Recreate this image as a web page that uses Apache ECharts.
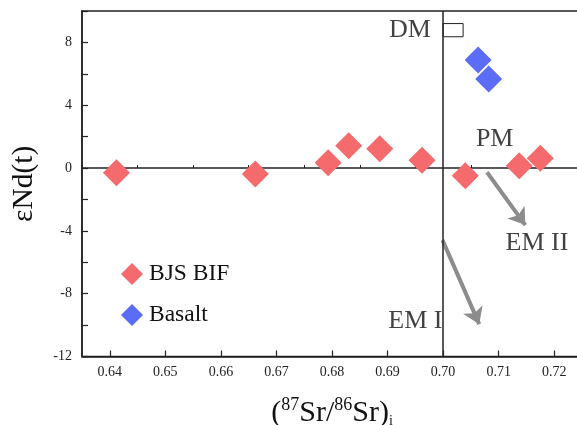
<!DOCTYPE html>
<html>
<head>
<meta charset="utf-8">
<script src="https://cdn.jsdelivr.net/npm/echarts@6/dist/echarts.min.js"></script>
<style>
  html, body { margin: 0; padding: 0; background: #fff; }
  #chart { width: 577px; height: 425px; }
</style>
</head>
<body>
<div id="chart"></div>
<script>
// Initial 87Sr/86Sr vs εNd(t) for banded iron formation and basalt samples
const bifSr  = [0.6412, 0.6662, 0.6793, 0.6830, 0.6886, 0.6962, 0.7040, 0.7137, 0.7175];
const bifNd  = [-0.30, -0.38, 0.34, 1.42, 1.23, 0.49, -0.49, 0.15, 0.62];
const basaltSr = [0.7063, 0.7082];
const basaltNd = [6.88, 5.67];

const xTicks = [0.64, 0.65, 0.66, 0.67, 0.68, 0.69, 0.70, 0.71, 0.72];
const xMinorTicks = [0.635, 0.645, 0.655, 0.665, 0.675, 0.685, 0.695, 0.705, 0.715, 0.725];
const yTicks = [-12, -8, -4, 0, 4, 8];

// Reference values: bulk-earth Sr ratio and chondritic εNd
const bulkEarthSr = 0.7043;
const chondriteNd = 0;

// Mantle reservoir annotations (data coordinates)
const dmBox = [[0.7000, 9.20], [0.7036, 8.36]];
const reservoirNames = ['DM', 'PM', 'EM II', 'EM I'];
const reservoirAt = [[0.6978, 8.75], [0.7059, 1.85], [0.7169, -4.8], [0.6950, -9.75]];
const reservoirAlign = ['right', 'left', 'center', 'center'];
const trendArrows = [
  [[0.7079, -0.27], [0.7148, -3.63]],
  [[0.6999, -4.59], [0.7065, -9.94]]
];

const serif = '"Liberation Serif", "Times New Roman", serif';
const ink = '#222';
const xMin = 0.635, xMax = 0.725;

const chart = echarts.init(document.getElementById('chart'), null, { renderer: 'canvas' });

const pair = (xs, ys) => xs.map((x, i) => [x, ys[i]]);

chart.setOption({
  animation: false,
  backgroundColor: '#fff',
  grid: {
    left: 82, top: 11, width: 500, bottom: 68.5,
    containLabel: false, outerBoundsMode: 'none',
    show: true, borderColor: ink, borderWidth: 1.5, backgroundColor: 'transparent'
  },
  legend: {
    orient: 'vertical',
    left: 116, top: 257,
    itemWidth: 22, itemHeight: 22, itemGap: 17,
    data: [
      { name: 'BJS BIF', icon: 'diamond' },
      { name: 'Basalt', icon: 'diamond' }
    ],
    textStyle: { fontFamily: serif, fontSize: 23.5, color: '#111', padding: [0, 0, 0, 1] }
  },
  xAxis: [
    {
      type: 'value',
      min: xMin, max: xMax, interval: 0.005,
      axisLine: { show: true, onZero: false, lineStyle: { color: ink, width: 1.5 } },
      axisTick: { show: true, inside: true, length: 6, customValues: xTicks, lineStyle: { color: ink, width: 1.2 } },
      splitLine: { show: false },
      axisLabel: {
        fontFamily: serif, fontSize: 14, color: ink, margin: 9,
        customValues: xTicks,
        formatter: v => v.toFixed(2)
      },
      name: '{p|(}{s|87}{p|Sr/}{s|86}{p|Sr)}{b|i}',
      nameLocation: 'middle', nameGap: 40,
      nameTextStyle: {
        rich: {
          p: { fontFamily: serif, fontSize: 30, color: '#111', verticalAlign: 'bottom', lineHeight: 32 },
          s: { fontFamily: serif, fontSize: 18, color: '#111', verticalAlign: 'top', lineHeight: 32, padding: [0, 0, 13, 0] },
          b: { fontFamily: serif, fontSize: 14, color: '#111', verticalAlign: 'bottom', lineHeight: 32, padding: [11, 0, 0, 0] }
        }
      }
    },
    {
      // half-step ticks between the labelled values
      type: 'value',
      position: 'bottom',
      min: xMin, max: xMax, interval: 0.005,
      axisLine: { show: false },
      axisTick: { show: true, inside: true, length: 3, customValues: xMinorTicks, lineStyle: { color: ink, width: 1 } },
      axisLabel: { show: false },
      splitLine: { show: false }
    }
  ],
  yAxis: {
    type: 'value',
    min: -12, max: 10, interval: 2,
    axisLine: { show: true, onZero: false, lineStyle: { color: ink, width: 1.5 } },
    axisTick: { show: true, inside: true, length: 6, lineStyle: { color: ink, width: 1.2 } },
    splitLine: { show: false },
    axisLabel: {
      fontFamily: serif, fontSize: 14, color: ink, margin: 10,
      formatter: v => (yTicks.includes(v) ? String(v) : '')
    },
    name: 'εNd(t)',
    nameLocation: 'middle', nameGap: 43, nameRotate: 90,
    nameTextStyle: { fontFamily: serif, fontSize: 29.5, color: '#111' }
  },
  series: [
    {
      name: 'refs',
      type: 'scatter',
      data: [],
      silent: true,
      markLine: {
        silent: true, symbol: 'none', label: { show: false },
        lineStyle: { color: ink, width: 1.5, type: 'solid' },
        data: [{ xAxis: bulkEarthSr }, { yAxis: chondriteNd }]
      },
      markArea: {
        silent: true,
        itemStyle: { color: '#fff', borderColor: ink, borderWidth: 1 },
        data: [[{ coord: dmBox[0] }, { coord: dmBox[1] }]]
      }
    },
    {
      name: 'arrows',
      type: 'lines',
      coordinateSystem: 'cartesian2d',
      silent: true,
      symbol: ['none', 'arrow'],
      symbolSize: 16,
      lineStyle: { color: '#8c8c8c', width: 4, opacity: 1 },
      data: trendArrows.map(c => ({ coords: c }))
    },
    {
      name: 'BJS BIF',
      type: 'scatter',
      symbol: 'diamond',
      symbolSize: 27,
      itemStyle: { color: '#F56A6C', opacity: 1 },
      data: pair(bifSr, bifNd),
      z: 5
    },
    {
      name: 'Basalt',
      type: 'scatter',
      symbol: 'diamond',
      symbolSize: 27,
      itemStyle: { color: '#5B6CF6', opacity: 1 },
      data: pair(basaltSr, basaltNd),
      z: 5
    },
    {
      name: 'reservoirs',
      type: 'scatter',
      symbol: 'circle',
      symbolSize: 2,
      itemStyle: { color: 'rgba(0,0,0,0)' },
      silent: true,
      z: 6,
      data: reservoirAt.map((c, i) => ({
        value: c,
        label: {
          show: true, position: 'inside', align: reservoirAlign[i], verticalAlign: 'middle',
          formatter: reservoirNames[i],
          fontFamily: serif, fontSize: 26, color: '#111'
        }
      }))
    }
  ]
});
</script>
</body>
</html>
